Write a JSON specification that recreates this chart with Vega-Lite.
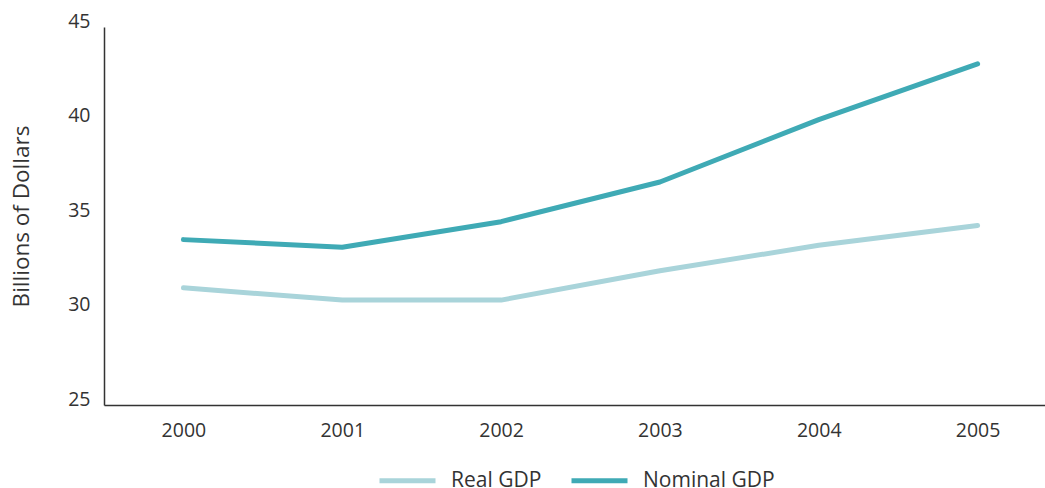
{
  "$schema": "https://vega.github.io/schema/vega-lite/v6.json",
  "width": 953,
  "height": 378,
  "autosize": {"type": "none"},
  "padding": {"left": 104, "top": 27, "right": 0, "bottom": 83},
  "background": "white",
  "config": {
    "view": {"stroke": null},
    "font": "Open Sans",
    "axis": {"labelFont": "Open Sans", "titleFont": "Open Sans", "labelColor": "#333333", "titleColor": "#333333", "domainColor": "#333333", "domainWidth": 1.5, "grid": false, "ticks": false},
    "legend": {"labelFont": "Open Sans"}
  },
  "data": {
    "values": [
      {"year": "2000", "series": "Real GDP", "value": 31.2},
      {"year": "2001", "series": "Real GDP", "value": 30.55},
      {"year": "2002", "series": "Real GDP", "value": 30.55},
      {"year": "2003", "series": "Real GDP", "value": 32.1},
      {"year": "2004", "series": "Real GDP", "value": 33.45},
      {"year": "2005", "series": "Real GDP", "value": 34.5},
      {"year": "2000", "series": "Nominal GDP", "value": 33.75},
      {"year": "2001", "series": "Nominal GDP", "value": 33.35},
      {"year": "2002", "series": "Nominal GDP", "value": 34.7},
      {"year": "2003", "series": "Nominal GDP", "value": 36.8},
      {"year": "2004", "series": "Nominal GDP", "value": 40.1},
      {"year": "2005", "series": "Nominal GDP", "value": 43.05}
    ]
  },
  "mark": {"type": "line", "strokeWidth": 5, "strokeCap": "round", "strokeJoin": "round"},
  "encoding": {
    "x": {
      "field": "year", "type": "ordinal",
      "scale": {"type": "point", "padding": 0.5},
      "axis": {"title": null, "labelAngle": 0, "labelFontSize": 19.5, "labelPadding": 16}
    },
    "y": {
      "field": "value", "type": "quantitative",
      "scale": {"domain": [25, 45], "nice": false, "zero": false},
      "axis": {"title": "Billions of Dollars", "titleFontSize": 22.5, "titleFontWeight": "normal", "titlePadding": 34, "labelFontSize": 19.5, "labelPadding": 14, "labelBaseline": "alphabetic", "values": [25, 30, 35, 40, 45]}
    },
    "color": {
      "field": "series", "type": "nominal",
      "scale": {"domain": ["Real GDP", "Nominal GDP"], "range": ["#a9d4da", "#3faab5"]},
      "legend": {
        "title": null, "orient": "none", "legendX": 273, "legendY": 423, "direction": "horizontal",
        "symbolType": "stroke", "symbolSize": 3136, "symbolStrokeWidth": 5,
        "labelFontSize": 21, "labelColor": "#333333", "labelOffset": 13, "columnPadding": 19
      }
    }
  }
}
